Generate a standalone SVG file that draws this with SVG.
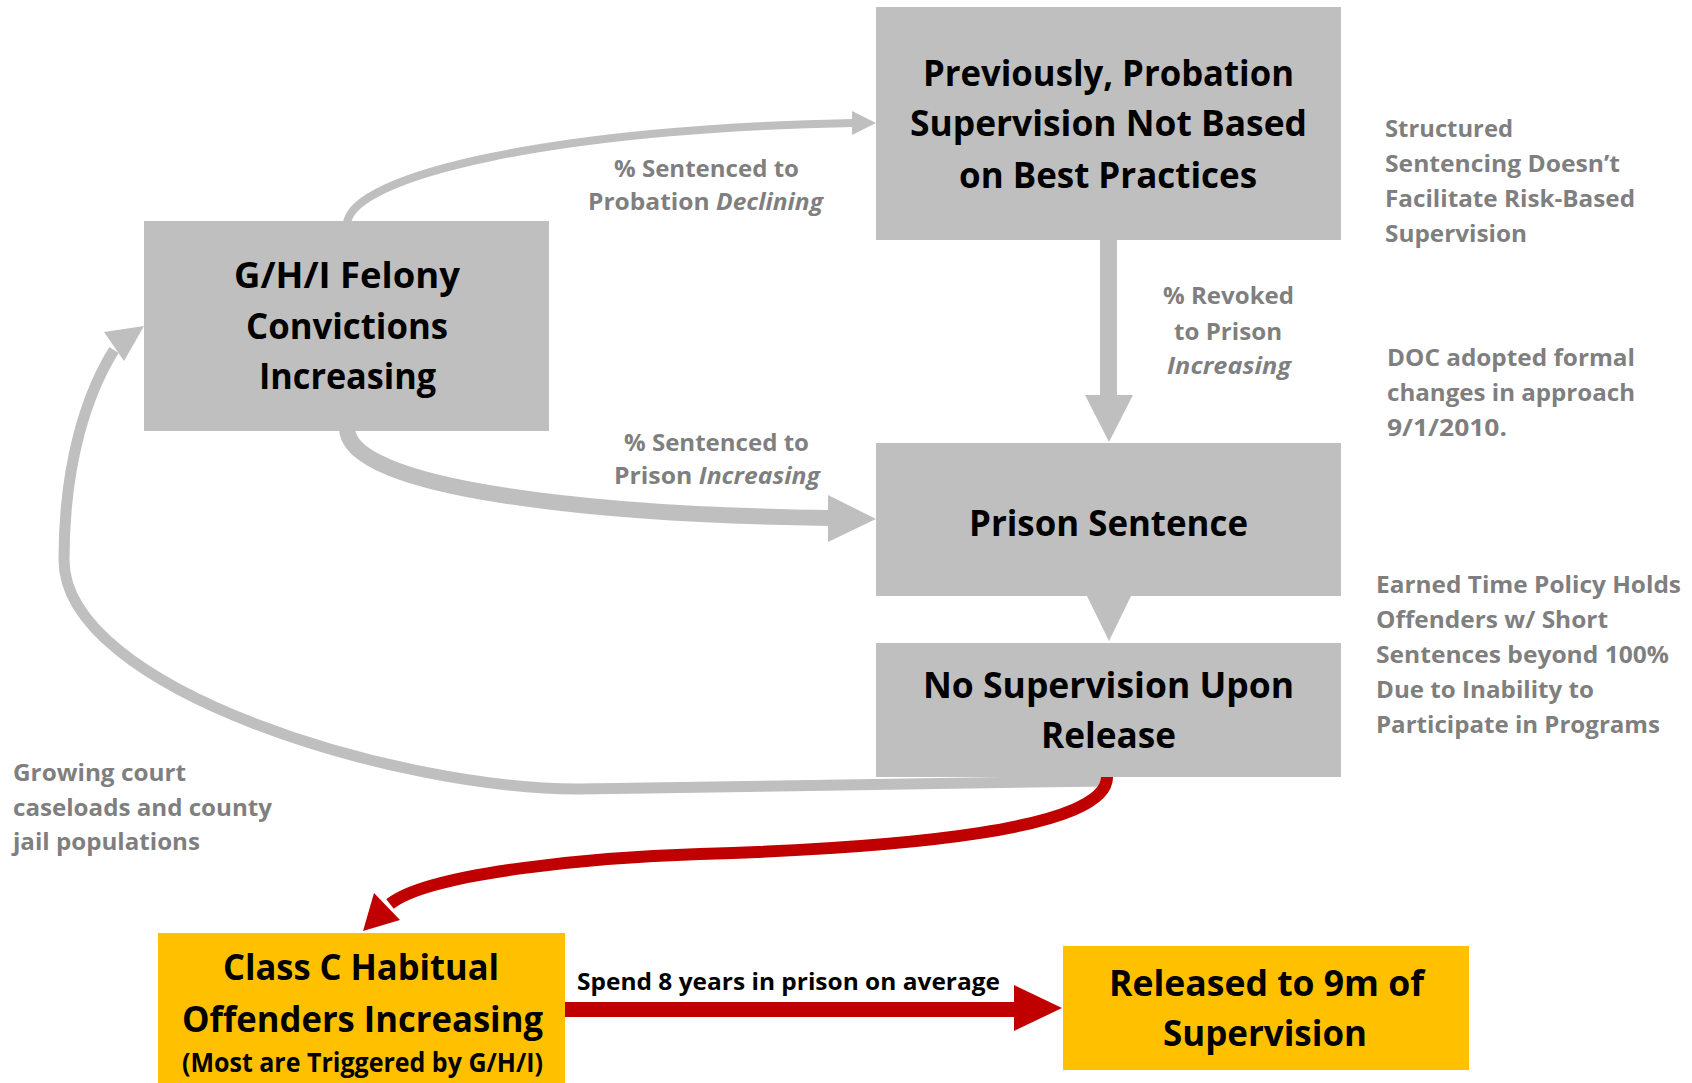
<svg xmlns="http://www.w3.org/2000/svg" width="1692" height="1083" viewBox="0 0 1692 1083">
<style>
.box{fill:#BFBFBF}
.ybox{fill:#FFC000}
.bt{font-family:"Open Sans","Noto Sans","Liberation Sans",sans-serif;font-weight:bold;font-size:35px;fill:#000}
.lb{font-family:"Open Sans","Noto Sans","Liberation Sans",sans-serif;font-weight:bold;font-size:24px;fill:#7F7F7F}
.it{font-style:italic}
.ga{fill:none;stroke:#BFBFBF;stroke-linecap:butt}
.gh{fill:#BFBFBF}
.ra{fill:none;stroke:#C00000}
.rh{fill:#C00000}
</style>
<rect width="1692" height="1083" fill="#FFFFFF"/>
<g id="connectors">
  <path class="ga" stroke-width="8" d="M347,224 C350,175 560,128 853,123"/>
  <polygon class="gh" points="852,111 876,123 852,135"/>
  <path class="ga" stroke-width="16" d="M347,428 C347,490 600,515 830,518"/>
  <polygon class="gh" points="828,495 876,519 828,542"/>
  <rect class="gh" x="1100" y="238" width="17" height="158"/>
  <polygon class="gh" points="1085,395 1133,395 1109,442"/>
  <polygon class="gh" points="1086,594 1132,594 1109,641"/>
  <path class="ga" stroke-width="11" d="M1105,781 L580,789 C400,790 64,690 64,560 C64,460 88,392 114,350"/>
  <polygon class="gh" points="144,326 104,332 124,361"/>
  <path class="ra" stroke-width="12" d="M1107,775 C1112,830 900,848 700,854 C600,857 430,872 390,904"/>
  <polygon class="rh" points="363,931 374,893 400,920"/>
  <rect class="rh" x="565" y="1002" width="450" height="15"/>
  <polygon class="rh" points="1014,985 1062,1008 1014,1031"/>
  <text class="lb" x="614" y="177" textLength="185" lengthAdjust="spacingAndGlyphs">% Sentenced to</text>
  <text class="lb" x="588" y="210" textLength="235" lengthAdjust="spacingAndGlyphs">Probation <tspan class="it">Declining</tspan></text>
  <text class="lb" x="624" y="451" textLength="185" lengthAdjust="spacingAndGlyphs">% Sentenced to</text>
  <text class="lb" x="614" y="484" textLength="206" lengthAdjust="spacingAndGlyphs">Prison <tspan class="it">Increasing</tspan></text>
  <text class="lb" x="1163" y="304" textLength="131" lengthAdjust="spacingAndGlyphs">% Revoked</text>
  <text class="lb" x="1174" y="340" textLength="108" lengthAdjust="spacingAndGlyphs">to Prison</text>
  <text class="lb it" x="1167" y="374" textLength="124" lengthAdjust="spacingAndGlyphs">Increasing</text>
  <text class="bt" style="font-size:23px" x="577" y="990" textLength="423" lengthAdjust="spacingAndGlyphs">Spend 8 years in prison on average</text>
</g>
<g id="node-felony">
  <rect class="box" x="144" y="221" width="405" height="210"/>
  <text class="bt" x="234" y="288" textLength="226" lengthAdjust="spacingAndGlyphs">G/H/I Felony</text>
  <text class="bt" x="246" y="339" textLength="202" lengthAdjust="spacingAndGlyphs">Convictions</text>
  <text class="bt" x="259" y="389" textLength="177" lengthAdjust="spacingAndGlyphs">Increasing</text>
</g>
<g id="node-probation">
  <rect class="box" x="876" y="7" width="465" height="233"/>
  <text class="bt" x="923" y="86" textLength="371" lengthAdjust="spacingAndGlyphs">Previously, Probation</text>
  <text class="bt" x="910" y="136" textLength="397" lengthAdjust="spacingAndGlyphs">Supervision Not Based</text>
  <text class="bt" x="959" y="188" textLength="298" lengthAdjust="spacingAndGlyphs">on Best Practices</text>
</g>
<g id="node-prison">
  <rect class="box" x="876" y="443" width="465" height="153"/>
  <text class="bt" x="969" y="536" textLength="279" lengthAdjust="spacingAndGlyphs">Prison Sentence</text>
</g>
<g id="node-nosupervision">
  <rect class="box" x="876" y="643" width="465" height="134"/>
  <text class="bt" x="923" y="698" textLength="371" lengthAdjust="spacingAndGlyphs">No Supervision Upon</text>
  <text class="bt" x="1041" y="748" textLength="135" lengthAdjust="spacingAndGlyphs">Release</text>
</g>
<g id="node-habitual">
  <rect class="ybox" x="158" y="933" width="407" height="150"/>
  <text class="bt" x="223" y="980" textLength="276" lengthAdjust="spacingAndGlyphs">Class C Habitual</text>
  <text class="bt" x="182" y="1032" textLength="361" lengthAdjust="spacingAndGlyphs">Offenders Increasing</text>
  <text class="bt" style="font-size:26px" x="182" y="1072" textLength="361" lengthAdjust="spacingAndGlyphs">(Most are Triggered by G/H/I)</text>
</g>
<g id="node-released">
  <rect class="ybox" x="1063" y="946" width="406" height="124"/>
  <text class="bt" x="1109" y="996" textLength="315" lengthAdjust="spacingAndGlyphs">Released to 9m of</text>
  <text class="bt" x="1163" y="1046" textLength="204" lengthAdjust="spacingAndGlyphs">Supervision</text>
</g>
<g id="note-structured">
  <text class="lb" x="1385" y="137" textLength="128" lengthAdjust="spacingAndGlyphs">Structured</text>
  <text class="lb" x="1385" y="172" textLength="235" lengthAdjust="spacingAndGlyphs">Sentencing Doesn’t</text>
  <text class="lb" x="1385" y="207" textLength="250" lengthAdjust="spacingAndGlyphs">Facilitate Risk-Based</text>
  <text class="lb" x="1385" y="242" textLength="142" lengthAdjust="spacingAndGlyphs">Supervision</text>
</g>
<g id="note-doc">
  <text class="lb" x="1387" y="366" textLength="248" lengthAdjust="spacingAndGlyphs">DOC adopted formal</text>
  <text class="lb" x="1387" y="401" textLength="248" lengthAdjust="spacingAndGlyphs">changes in approach</text>
  <text class="lb" x="1387" y="436" textLength="120" lengthAdjust="spacingAndGlyphs">9/1/2010.</text>
</g>
<g id="note-earned">
  <text class="lb" x="1376" y="593" textLength="305" lengthAdjust="spacingAndGlyphs">Earned Time Policy Holds</text>
  <text class="lb" x="1376" y="628" textLength="232" lengthAdjust="spacingAndGlyphs">Offenders w/ Short</text>
  <text class="lb" x="1376" y="663" textLength="293" lengthAdjust="spacingAndGlyphs">Sentences beyond 100%</text>
  <text class="lb" x="1376" y="698" textLength="218" lengthAdjust="spacingAndGlyphs">Due to Inability to</text>
  <text class="lb" x="1376" y="733" textLength="284" lengthAdjust="spacingAndGlyphs">Participate in Programs</text>
</g>
<g id="note-growing">
  <text class="lb" x="13" y="781" textLength="173" lengthAdjust="spacingAndGlyphs">Growing court</text>
  <text class="lb" x="13" y="816" textLength="259" lengthAdjust="spacingAndGlyphs">caseloads and county</text>
  <text class="lb" x="13" y="850" textLength="187" lengthAdjust="spacingAndGlyphs">jail populations</text>
</g>
</svg>
